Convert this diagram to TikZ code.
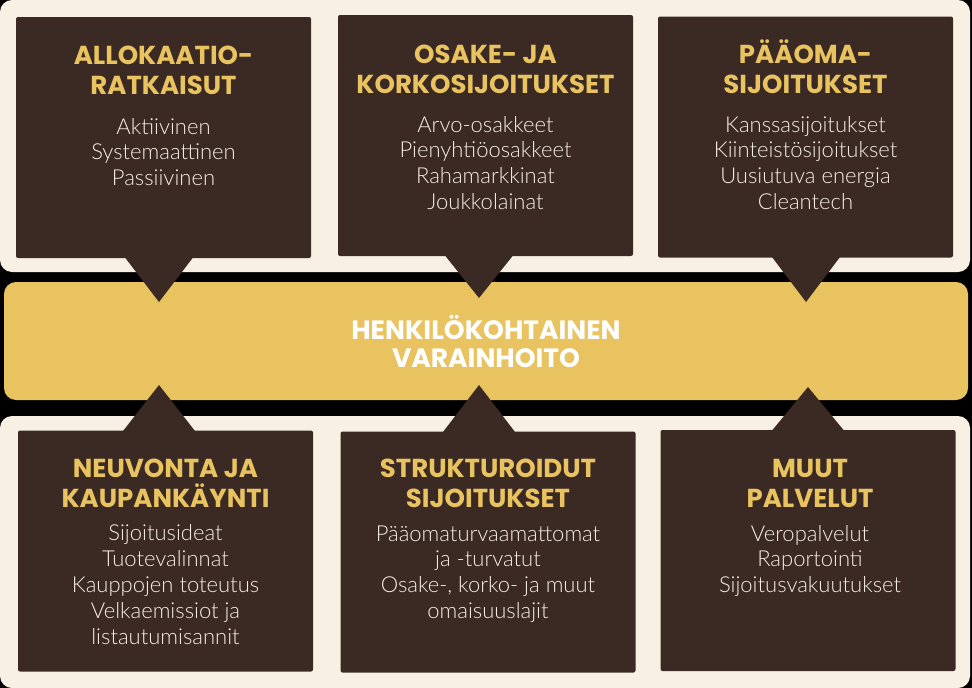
\documentclass[tikz,border=0pt]{standalone}
\usepackage{fontspec}
\usepackage{xcolor}
\usetikzlibrary{calc}
\newfontfamily\headfont{Poppins Bold}
\newfontfamily\bodyfont{Lato Light}
\definecolor{bark}{HTML}{3B2A24}
\definecolor{cream}{HTML}{F8F1E3}
\definecolor{gold}{HTML}{E9C360}
\definecolor{ivory}{HTML}{F6EFE5}
\begin{document}
\begin{tikzpicture}[x=1pt,y=-1pt]
			\tikzstyle{panel} = [fill=cream, rounded corners=12pt]
			\tikzstyle{band} = [fill=gold, rounded corners=12pt, minimum width=964pt, minimum height=118pt, text=white, align=center, font=\headfont\fontsize{26.5}{28}\selectfont]
			\tikzstyle{card} = [fill=bark, rounded corners=2pt, inner sep=0pt, minimum width=295pt, minimum height=241pt]
			\tikzstyle{pointer} = [fill=bark]
			\tikzstyle{head} = [text=gold, anchor=base, inner sep=0pt, align=center, font=\headfont\fontsize{26}{30}\selectfont]
			\tikzstyle{items} = [text=ivory, anchor=base, inner sep=0pt, align=center, font=\bodyfont\fontsize{22}{25.8}\selectfont]
			
			\fill[black] (0,0) rectangle (972,688);
			\useasboundingbox (0,0) rectangle (972,688);
			\fill[panel] (0,0) rectangle (970,272);
			\fill[panel] (0,416) rectangle (970,688);
			
			\node[band](core) at (486,341) {HENKILÖKOHTAINEN\\VARAINHOITO};
			
			\node[card](alloc) at (163.5,137.5) {};
			\node[card](stocks) at (485.5,135.5) {};
			\node[card](capital) at (805.5,137) {};
			\node[card](advice) at (165.5,551) {};
			\node[card](struct) at (488,552) {};
			\node[card](other) at (808,550.5) {};
			
			\coordinate (allocTip) at (159,302);
			\coordinate (stocksTip) at (479,298);
			\coordinate (capitalTip) at (806,302);
			\coordinate (adviceTip) at (159,385);
			\coordinate (structTip) at (479,385);
			\coordinate (otherTip) at (808,387);
			
			\fill[pointer] (allocTip) -- ($(allocTip |- alloc.south)+(-35,-2)$) -- ($(allocTip |- alloc.south)+(35,-2)$) -- cycle;
			\fill[pointer] (stocksTip) -- ($(stocksTip |- stocks.south)+(-35,-2)$) -- ($(stocksTip |- stocks.south)+(35,-2)$) -- cycle;
			\fill[pointer] (capitalTip) -- ($(capitalTip |- capital.south)+(-35,-2)$) -- ($(capitalTip |- capital.south)+(35,-2)$) -- cycle;
			\fill[pointer] (adviceTip) -- ($(adviceTip |- advice.north)+(-37,2)$) -- ($(adviceTip |- advice.north)+(37,2)$) -- cycle;
			\fill[pointer] (structTip) -- ($(structTip |- struct.north)+(-37,2)$) -- ($(structTip |- struct.north)+(37,2)$) -- cycle;
			\fill[pointer] (otherTip) -- ($(otherTip |- other.north)+(-37,2)$) -- ($(otherTip |- other.north)+(37,2)$) -- cycle;
			
			% base anchor sits on the last line
			\node[head](allocHead) at (163.5,94) {ALLOKAATIO-\\RATKAISUT};
			\node[items](allocList) at (163.5,185.6) {Aktiivinen\\Systemaattinen\\Passiivinen};
			
			\node[head](stocksHead) at (485.5,93) {OSAKE- JA\\KORKOSIJOITUKSET};
			\node[items](stocksList) at (485.5,209.4) {Arvo-osakkeet\\Pienyhtiöosakkeet\\Rahamarkkinat\\Joukkolainat};
			
			\node[head](capitalHead) at (805.5,93) {PÄÄOMA-\\SIJOITUKSET};
			\node[items](capitalList) at (805.5,209.4) {Kanssasijoitukset\\Kiinteistösijoitukset\\Uusiutuva energia\\Cleantech};
			
			\node[head](adviceHead) at (165.5,507) {NEUVONTA JA\\KAUPANKÄYNTI};
			\node[items](adviceList) at (165.5,644) {Sijoitusideat\\Tuotevalinnat\\Kauppojen toteutus\\Velkaemissiot ja\\listautumisannit};
			
			\node[head](structHead) at (488,507) {STRUKTUROIDUT\\SIJOITUKSET};
			\node[items](structList) at (488,618.4) {Pääomaturvaamattomat\\ja -turvatut\\Osake-, korko- ja muut\\omaisuuslajit};
			
			\node[head](otherHead) at (810,507) {MUUT\\PALVELUT};
			\node[items](otherList) at (810,592.6) {Veropalvelut\\Raportointi\\Sijoitusvakuutukset};
			
\end{tikzpicture}
\end{document}
